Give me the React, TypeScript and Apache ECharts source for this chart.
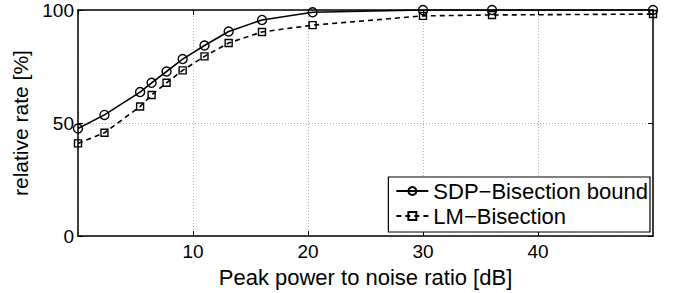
import React, { useEffect, useRef } from "react";
import * as echarts from "echarts";

const snrDb = [0, 2.3, 5.4, 6.4, 7.7, 9.1, 11.0, 13.1, 16.0, 20.4, 30, 36, 50];
const sdpBound = [47.6, 53.6, 63.7, 67.8, 72.8, 78.3, 84.3, 90.5, 95.6, 99.0, 100, 100, 100];
const lmBisection = [41.0, 45.7, 57.3, 62.4, 67.8, 73.3, 79.5, 85.4, 90.3, 93.3, 97.4, 97.8, 98.2];
const seriesNames = ["SDP\u2212Bisection bound", "LM\u2212Bisection"];

const FONT = "Liberation Sans";

export default function App() {
  const ref = useRef<HTMLDivElement>(null);
  useEffect(() => {
    if (!ref.current) return;
    const chart = echarts.init(ref.current, null, { renderer: "svg" });
    const pair = (ys: number[]) => snrDb.map((x, i) => [x, ys[i]]);
    const axisCommon = {
      type: "value" as const,
      axisLine: { show: true, onZero: false, lineStyle: { color: "#000", width: 1.5 } },
      axisTick: { show: true, inside: true, length: 5, lineStyle: { color: "#000", width: 1 } },
    };
    const grid = { color: "#b0b0b0", type: [1, 2] as number[], width: 1 };
    chart.setOption({
      animation: false,
      backgroundColor: "#fff",
      grid: { left: 78, right: 25, top: 10, bottom: 55, containLabel: false },
      legend: {
        orient: "vertical",
        right: 28,
        bottom: 61,
        padding: [3, 2, 5, 7],
        itemGap: 3,
        itemWidth: 32,
        itemHeight: 10,
        borderColor: "#000",
        borderWidth: 1.2,
        borderRadius: 0,
        backgroundColor: "#fff",
        textStyle: { fontFamily: FONT, fontSize: 22, color: "#000" },
        data: seriesNames,
      },
      xAxis: [
        {
          ...axisCommon,
          min: 0,
          max: 50,
          interval: 10,
          position: "bottom",
          name: "Peak power to noise ratio [dB]",
          nameLocation: "middle",
          nameGap: 25,
          nameTextStyle: { fontFamily: FONT, fontSize: 22, color: "#000" },
          axisLabel: {
            fontFamily: FONT,
            fontSize: 19,
            color: "#000",
            margin: 6,
            showMinLabel: false,
            showMaxLabel: false,
          },
          splitLine: { show: true, lineStyle: grid },
        },
        {
          ...axisCommon,
          min: 0,
          max: 50,
          interval: 10,
          position: "top",
          axisLabel: { show: false },
          splitLine: { show: false },
        },
      ],
      yAxis: [
        {
          ...axisCommon,
          min: 0,
          max: 100,
          interval: 50,
          position: "left",
          name: "relative rate [%]",
          nameLocation: "middle",
          nameRotate: 90,
          nameGap: 43,
          nameTextStyle: { fontFamily: FONT, fontSize: 21, color: "#000" },
          axisLabel: { fontFamily: FONT, fontSize: 19, color: "#000", margin: 4 },
          splitLine: { show: true, lineStyle: grid },
        },
        {
          ...axisCommon,
          min: 0,
          max: 100,
          interval: 50,
          position: "right",
          axisLabel: { show: false },
          splitLine: { show: false },
        },
      ],
      series: [
        {
          name: seriesNames[0],
          type: "line",
          data: pair(sdpBound),
          symbol: "circle",
          symbolSize: 9,
          lineStyle: { color: "#000", width: 1.6, type: "solid" },
          itemStyle: { color: "rgba(255,255,255,0)", borderColor: "#000", borderWidth: 1.4 },
          z: 3,
        },
        {
          name: seriesNames[1],
          type: "line",
          data: pair(lmBisection),
          symbol: "rect",
          symbolSize: 7,
          lineStyle: { color: "#000", width: 1.6, type: [5, 4] },
          itemStyle: { color: "rgba(255,255,255,0)", borderColor: "#000", borderWidth: 1.4 },
          z: 2,
        },
      ],
    });
    return () => chart.dispose();
  }, []);
  return <div ref={ref} style={{ width: 678, height: 293, position: "absolute", left: 0, top: 0 }} />;
}
